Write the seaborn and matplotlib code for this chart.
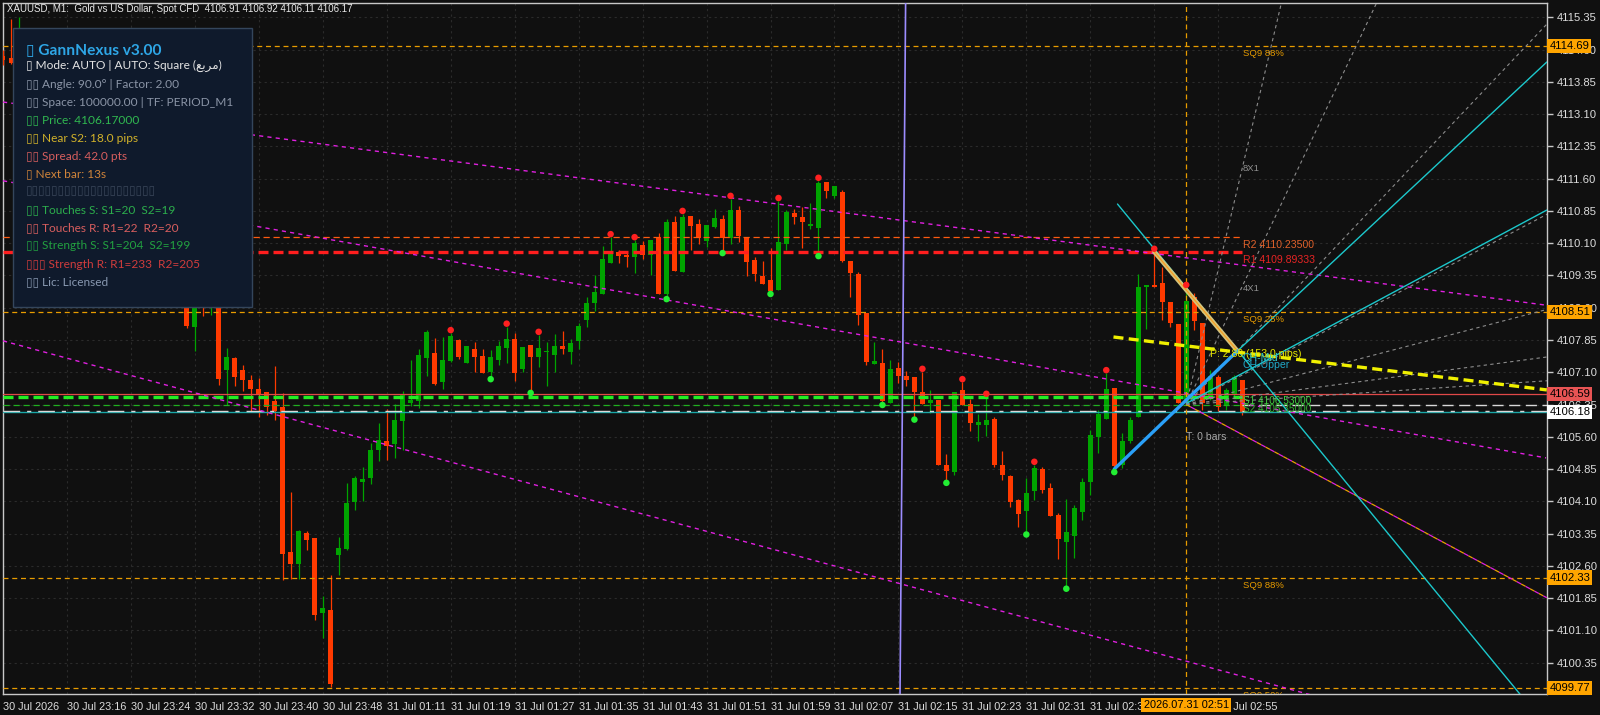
import numpy as np
import pandas as pd
import matplotlib
matplotlib.use("Agg")
import matplotlib.pyplot as plt
from matplotlib.patches import Rectangle
from matplotlib.transforms import blended_transform_factory
import seaborn as sns

# ---------------- data ----------------
opens = [4114.45, 4114.40, 4114.45, 4115.00, 4114.30, 4113.80, 4113.90, 4113.10, 4113.30, 4112.40,
         4112.70, 4111.90, 4112.10, 4111.40, 4111.60, 4110.80, 4111.00, 4110.30, 4110.50, 4109.80,
         4110.00, 4109.40, 4109.60, 4109.20, 4108.16, 4109.40, 4108.85, 4109.30, 4107.15, 4107.43,
         4107.15, 4106.92, 4106.71, 4106.64, 4106.43, 4106.29, 4102.92, 4102.65, 4103.37, 4103.25,
         4101.51, 4101.58, 4102.85, 4102.99, 4104.09, 4104.56, 4104.64, 4105.29, 4105.50, 4105.43,
         4105.97, 4106.39, 4106.44, 4107.44, 4107.55, 4106.88, 4107.36, 4107.85, 4107.32, 4107.64,
         4107.48, 4107.11, 4107.39, 4107.67, 4107.87, 4107.18, 4107.73, 4107.46, 4107.56, 4107.50,
         4107.71, 4107.57, 4107.83, 4108.32, 4108.71, 4108.93, 4109.64, 4109.90, 4109.83, 4109.78,
         4110.06, 4109.83, 4110.24, 4108.93, 4110.59, 4109.44, 4110.73, 4110.55, 4110.16, 4110.48,
         4110.66, 4110.22, 4110.87, 4110.24, 4109.71, 4109.34, 4109.25, 4109.01, 4110.08, 4110.80,
         4110.71, 4110.51, 4110.45, 4111.52, 4111.20, 4111.29, 4109.69, 4109.38, 4108.48, 4107.30,
         4107.32, 4106.39, 4107.20, 4107.01, 4106.99, 4106.64, 4106.39, 4106.46, 4104.95, 4104.79,
         4106.69, 4106.36, 4105.88, 4105.88, 4106.01, 4104.95, 4104.70, 4104.14, 4103.88, 4104.33,
         4104.86, 4104.42, 4103.79, 4103.16, 4103.30, 4103.85, 4104.55, 4105.60, 4106.02, 4106.74,
         4104.95, 4105.51, 4106.07, 4109.09, 4109.13, 4109.18, 4108.74, 4108.22, 4106.38, 4108.86,
         4108.25, 4106.50, 4107.00, 4106.34, 4106.60, 4106.91]
highs = [4114.60, 4115.31, 4115.36, 4115.05, 4114.60, 4114.10, 4114.00, 4113.50, 4113.40, 4112.90,
         4112.80, 4112.30, 4112.20, 4111.80, 4111.70, 4111.20, 4111.10, 4110.70, 4110.60, 4110.20,
         4110.10, 4109.80, 4109.70, 4109.40, 4109.30, 4109.50, 4109.50, 4109.45, 4107.66, 4107.46,
         4107.27, 4107.04, 4106.97, 4106.64, 4107.25, 4106.62, 4104.32, 4103.44, 4103.41, 4103.25,
         4101.90, 4102.39, 4103.27, 4104.53, 4104.69, 4104.90, 4105.46, 4105.92, 4106.25, 4106.36,
         4106.67, 4107.39, 4107.64, 4108.08, 4107.90, 4107.92, 4108.01, 4107.87, 4107.71, 4107.80,
         4107.64, 4107.62, 4107.83, 4108.16, 4108.01, 4107.69, 4107.73, 4107.97, 4107.80, 4107.99,
         4108.06, 4107.87, 4108.25, 4108.86, 4109.36, 4110.04, 4110.24, 4109.94, 4109.88, 4110.17,
         4110.15, 4110.17, 4110.34, 4110.66, 4110.73, 4110.78, 4110.73, 4110.66, 4110.52, 4110.90,
         4110.76, 4111.13, 4110.97, 4110.24, 4109.78, 4109.69, 4109.99, 4111.08, 4110.87, 4110.90,
         4110.94, 4111.03, 4111.55, 4111.52, 4111.43, 4111.34, 4109.69, 4109.44, 4108.48, 4107.80,
         4107.64, 4107.39, 4107.34, 4107.13, 4106.99, 4107.11, 4106.69, 4106.46, 4105.20, 4106.64,
         4106.87, 4106.48, 4106.13, 4106.53, 4106.07, 4105.27, 4104.72, 4104.16, 4104.65, 4104.95,
         4104.91, 4104.53, 4103.84, 4104.16, 4104.02, 4104.64, 4105.76, 4106.22, 4107.08, 4106.74,
         4105.69, 4106.07, 4109.38, 4109.13, 4109.90, 4109.55, 4108.74, 4108.22, 4109.06, 4108.94,
         4108.25, 4107.15, 4107.04, 4106.74, 4107.04, 4106.92]
lows = [4114.25, 4114.27, 4114.30, 4114.20, 4113.60, 4113.30, 4112.90, 4112.60, 4112.20, 4112.00,
        4111.70, 4111.50, 4111.20, 4110.90, 4110.60, 4110.40, 4110.10, 4109.90, 4109.60, 4109.40,
        4109.20, 4109.00, 4108.95, 4108.13, 4107.60, 4108.41, 4108.43, 4106.80, 4106.34, 4106.78,
        4106.67, 4106.20, 4106.05, 4106.11, 4105.99, 4102.27, 4102.30, 4102.30, 4102.97, 4101.34,
        4100.93, 4099.79, 4102.39, 4102.97, 4103.90, 4104.11, 4104.50, 4105.04, 4105.06, 4105.11,
        4105.29, 4106.32, 4106.27, 4107.01, 4106.81, 4106.71, 4107.34, 4107.41, 4107.32, 4107.11,
        4107.08, 4107.01, 4107.27, 4107.32, 4106.90, 4107.11, 4106.69, 4107.23, 4106.78, 4107.11,
        4107.53, 4107.29, 4107.64, 4108.16, 4108.53, 4108.93, 4109.64, 4109.64, 4109.55, 4109.41,
        4109.73, 4109.36, 4108.93, 4108.87, 4109.46, 4109.44, 4109.94, 4110.08, 4110.02, 4110.45,
        4109.94, 4110.08, 4110.13, 4109.34, 4109.22, 4109.15, 4108.99, 4109.01, 4109.94, 4110.55,
        4109.99, 4110.43, 4109.87, 4111.16, 4111.16, 4109.66, 4108.86, 4108.20, 4107.27, 4107.30,
        4106.41, 4106.39, 4106.84, 4106.77, 4106.07, 4106.36, 4106.15, 4104.95, 4104.60, 4104.72,
        4106.34, 4105.74, 4105.51, 4105.63, 4104.91, 4104.60, 4103.98, 4103.51, 4103.40, 4104.14,
        4104.30, 4103.77, 4102.77, 4102.14, 4102.79, 4103.67, 4104.25, 4105.23, 4106.02, 4104.85,
        4104.88, 4105.46, 4106.07, 4108.11, 4109.08, 4108.32, 4108.16, 4106.39, 4106.38, 4108.08,
        4106.22, 4106.46, 4106.20, 4106.22, 4106.55, 4106.11]
closes = [4114.35, 4114.29, 4115.00, 4114.30, 4113.80, 4113.90, 4113.10, 4113.30, 4112.40, 4112.70,
          4111.90, 4112.10, 4111.40, 4111.60, 4110.80, 4111.00, 4110.30, 4110.50, 4109.80, 4110.00,
          4109.40, 4109.60, 4109.20, 4108.18, 4109.00, 4108.85, 4109.30, 4106.94, 4107.45, 4107.00,
          4106.92, 4106.71, 4106.57, 4106.30, 4106.20, 4102.88, 4102.65, 4103.42, 4103.20, 4101.46,
          4101.62, 4099.86, 4103.02, 4104.06, 4104.64, 4104.62, 4105.29, 4105.53, 4105.39, 4105.99,
          4106.57, 4106.46, 4107.50, 4108.04, 4106.83, 4107.39, 4107.95, 4107.46, 4107.71, 4107.46,
          4107.09, 4107.46, 4107.71, 4107.87, 4107.09, 4107.69, 4107.46, 4107.66, 4107.60, 4107.71,
          4107.65, 4107.78, 4108.18, 4108.71, 4108.97, 4109.73, 4109.90, 4109.81, 4109.78, 4110.11,
          4109.83, 4110.17, 4108.93, 4110.59, 4109.46, 4110.72, 4110.51, 4110.22, 4110.52, 4110.69,
          4110.22, 4110.87, 4110.27, 4109.66, 4109.38, 4109.15, 4108.99, 4110.13, 4110.83, 4110.72,
          4110.59, 4110.55, 4111.51, 4111.32, 4111.43, 4109.69, 4109.41, 4108.42, 4107.35, 4107.36,
          4106.43, 4107.18, 4107.02, 4106.93, 4106.64, 4106.36, 4106.46, 4104.95, 4104.81, 4106.64,
          4106.34, 4105.91, 4105.95, 4105.99, 4104.95, 4104.72, 4104.09, 4103.81, 4104.30, 4104.88,
          4104.37, 4103.77, 4103.23, 4103.39, 4103.95, 4104.55, 4105.64, 4106.13, 4106.71, 4104.92,
          4105.50, 4105.99, 4109.08, 4109.13, 4109.09, 4108.74, 4108.24, 4106.39, 4108.76, 4108.28,
          4106.38, 4107.01, 4106.30, 4106.69, 4106.99, 4106.17]

fractal_up_idx = [56, 63, 67, 76, 79, 85, 91, 97, 102, 115, 120, 123, 129, 138, 144, 148]
fractal_dn_idx = [61, 66, 83, 90, 96, 102, 110, 114, 118, 128, 133, 139]

time_tick_idx = [0, 8, 16, 24, 32, 40, 48, 56, 64, 72, 80, 88, 96, 104, 112, 120, 128, 136, 144, 152]
time_labels = ["30 Jul 2026", "30 Jul 23:16", "30 Jul 23:24", "30 Jul 23:32", "30 Jul 23:40",
               "30 Jul 23:48", "31 Jul 01:11", "31 Jul 01:19", "31 Jul 01:27", "31 Jul 01:35",
               "31 Jul 01:43", "31 Jul 01:51", "31 Jul 01:59", "31 Jul 02:07", "31 Jul 02:15",
               "31 Jul 02:23", "31 Jul 02:31", "31 Jul 02:39", "", "31 Jul 02:55"]
price_ticks = [4115.35, 4114.60, 4113.85, 4113.10, 4112.35, 4111.60, 4110.85, 4110.10, 4109.35,
               4108.60, 4107.85, 4107.10, 4106.35, 4105.60, 4104.85, 4104.10, 4103.35, 4102.60,
               4101.85, 4101.10, 4100.35]

sq9_levels = [4114.69, 4108.51, 4102.33, 4099.77]
sq9_labels = ["SQ9 88%", "SQ9 25%", "SQ9 88%", "SQ9 50%"]
r2_level, r1_level = 4110.235, 4109.89333
s1_level, s2_level = 4106.53, 4106.35
ask_level, bid_level = 4106.59, 4106.18

# trend / channel anchors (bar index, price)
magenta_lines = [([0, 193], [4113.38, 4108.66]),
                 ([0, 193], [4111.55, 4105.11]),
                 ([0, 170], [4107.83, 4099.28])]
cyan_lines = [([139.4, 195.0], [4111.01, 4098.43]),
              ([154.4, 193.1], [4107.595, 4114.31]),
              ([148.1, 193.1], [4106.386, 4110.87])]
blue_line = ([139.0, 154.4], [4104.85, 4107.595])
khaki_line = ([144.0, 154.4], [4109.90, 4107.595])
yellow_line = ([138.9, 193.1], [4107.92, 4106.69])
orange_down = ([148.0, 193.1], [4106.35, 4101.86])
lavender_line = ([112.9, 112.2], [4115.68, 4099.62])
fan_origin = (148.0, 4106.35)
fan_ratios = [8, 4, 2, 1, 0.5, 0.25, 0.125]
fan_unit = 0.098
cursor_idx = 148

# ---------------- style ----------------
BG = "#101010"
GRID = "#2b2b2b"
UP = "#00a400"
DN = "#ff3a00"

sns.set_theme(style="dark")
plt.rcParams['font.family'] = ['Liberation Sans', 'DejaVu Sans']

W, H = 1600, 715
fig = plt.figure(figsize=(16, 7.15), dpi=100, facecolor=BG)
ax = fig.add_axes([3 / W, 21 / H, 1544 / W, 691 / H])
ax.set_facecolor(BG)
ax.set_xlim(0.125, 193.125)
ax.set_ylim(4099.623, 4115.682)

df = pd.DataFrame({"idx": np.arange(len(opens)), "open": opens, "high": highs,
                   "low": lows, "close": closes})
df["up"] = df["close"] >= df["open"]
cols = np.where(df["up"], UP, DN)

# grid
ax.grid(True, color=GRID, linestyle=(0, (2, 3)), lw=0.8)
ax.set_axisbelow(True)

# candles
ax.vlines(df["idx"], df["low"], df["high"], colors=cols, lw=0.9, zorder=3)
body_lo = np.minimum(df["open"], df["close"])
body_h = np.maximum(np.abs(df["close"] - df["open"]), 0.03)
ax.bar(df["idx"], body_h, bottom=body_lo, width=0.62, color=cols, linewidth=0, zorder=4)

# horizontal levels
for lv in sq9_levels:
    ax.axhline(lv, color="#e89c00", lw=0.9, dashes=(4, 3), zorder=5)
xe = 155.0
ax.plot([0, xe], [r2_level] * 2, color="#ff5a10", lw=0.9, dashes=(5, 3), zorder=5)
ax.plot([0, xe], [r1_level] * 2, color="#ff1e1e", lw=2.4, dashes=(3, 1.5), zorder=5)
ax.axhline(ask_level, color="#e04848", lw=0.9, zorder=5)
ax.axhline(bid_level, color="#1aa6a6", lw=1.0, zorder=5)
ax.axhline(bid_level + 0.012, color="#d8d8d8", lw=1.0, dashes=(12, 5, 3, 5), zorder=5)
ax.plot([xe, 194], [s2_level] * 2, color="#d8d8d8", lw=1.0, dashes=(8, 4), zorder=5)
ax.plot([0, xe], [s1_level] * 2, color="#22ee22", lw=2.4, dashes=(3, 1.5), zorder=5)
ax.plot([0, xe], [s2_level] * 2, color="#20b020", lw=0.9, dashes=(5, 3), zorder=5)

# channel lines
for xs, ys in magenta_lines:
    ax.plot(xs, ys, color="#e020e0", lw=1.0, dashes=(3, 3), zorder=5)
ax.plot(*orange_down, color="#e8a000", lw=0.9, dashes=(4, 4), zorder=5)
ax.plot(*orange_down, color="#e020e0", lw=0.9, dashes=(0, 4, 4, 0), zorder=5)
ax.plot(*lavender_line, color="#9c8cff", lw=1.2, zorder=5)
ax.axvline(cursor_idx, color="#e89c00", lw=0.9, dashes=(4, 3), zorder=5)

# gann fan
for r in fan_ratios:
    xs = np.array([fan_origin[0], 200.0])
    ys = fan_origin[1] + r * fan_unit * (xs - fan_origin[0])
    ax.plot(xs, ys, color="#8c8c8c", lw=0.8, dashes=(3, 3), zorder=5)
for xs, ys in cyan_lines:
    ax.plot(xs, ys, color="#1cc8cc", lw=1.0, zorder=6)
ax.plot(*yellow_line, color="#f0f000", lw=2.4, dashes=(3, 1.6), zorder=6)
ax.plot(*khaki_line, color="#d4c47a", lw=3.2, solid_capstyle="round", zorder=6)
ax.plot(*khaki_line, color="#ff9a1a", lw=0.8, zorder=7)
ax.plot(*blue_line, color="#2aa0f8", lw=2.4, solid_capstyle="round", zorder=7)

# fractal markers
up_df = df.loc[fractal_up_idx]
dn_df = df.loc[fractal_dn_idx]
sns.scatterplot(x=up_df["idx"], y=up_df["high"] + 0.07, ax=ax, color="#ff2020", s=22,
                edgecolor="none", zorder=8, legend=False)
sns.scatterplot(x=dn_df["idx"], y=dn_df["low"] - 0.07, ax=ax, color="#22ee33", s=22,
                edgecolor="none", zorder=8, legend=False)
ax.set_xlabel("")
ax.set_ylabel("")

# level labels
lx = 155.1
lab_kw = dict(ha="left", va="top", zorder=9, fontsize=6.8, clip_on=True)
for lv, t in zip(sq9_levels, sq9_labels):
    ax.text(lx, lv - 0.08, t, color="#e89c00", **lab_kw)
ax.text(lx, r2_level - 0.06, "R2 4110.23500", color="#e0602a", **{**lab_kw, "fontsize": 7.6})
ax.text(lx, r1_level - 0.06, "R1 4109.89333", color="#e82424", **{**lab_kw, "fontsize": 7.6})
ax.text(lx, 4111.94, "8X1", color="#909090", **lab_kw)
ax.text(lx, 4109.15, "4X1", color="#909090", **lab_kw)
ax.text(151.0, 4107.52, "P: 2.80 (153.0 pips)", color="#e6e600", ha="left", va="center",
        fontsize=7.6, zorder=9)
ax.text(lx, 4107.43, "CH-Mid", color="#30c8c8", ha="left", va="center", fontsize=7.6, zorder=9)
ax.text(lx, 4107.27, "CH-Upper", color="#20a8c8", ha="left", va="center", fontsize=7.6, zorder=9)
ax.text(lx, 4106.44, "S1 4106.53000", color="#40d040", ha="left", va="center", fontsize=7.2, zorder=9)
ax.text(lx, 4106.24, "S2 4106.35000", color="#30b030", ha="left", va="center", fontsize=7.2, zorder=9)
ax.text(cursor_idx, 4105.60, "T: 0 bars", color="#a8a8a8", ha="left", va="center", fontsize=7.6, zorder=9)

# axes / ticks
for sp in ax.spines.values():
    sp.set_visible(True)
    sp.set_color("#c8c8c8")
    sp.set_linewidth(1.0)
ax.yaxis.tick_right()
ax.set_yticks(price_ticks)
ax.set_yticklabels([f"{p:.2f}" for p in price_ticks])
ax.set_xticks(time_tick_idx)
ax.set_xticklabels(time_labels, ha="left")
ax.tick_params(axis="both", direction="out", length=4, width=1, color="#c8c8c8",
               labelcolor="#dcdcdc", labelsize=8.1, pad=2)
ax.tick_params(axis="x", labelsize=7.8)
ax.tick_params(axis="y", pad=3)

# highlighted axis labels
ty = blended_transform_factory(ax.transAxes, ax.transData)
tag_kw = dict(transform=ty, ha="left", va="center", fontsize=8.1, zorder=20, clip_on=False)
for lv, fc in [(4114.69, "#ffa500"), (4108.51, "#ffa500"), (4102.33, "#ffa500"),
               (4099.77, "#ffa500"), (ask_level, "#e85454"), (bid_level, "#ffffff")]:
    ax.text(1.0015, lv, f"{lv:.2f}", color="black",
            bbox=dict(boxstyle="square,pad=0.18", fc=fc, ec="none"), **tag_kw)
tx = blended_transform_factory(ax.transData, ax.transAxes)
ax.text(cursor_idx, -0.0155, "2026.07.31 02:51", transform=tx, ha="center", va="center",
        fontsize=7.9, color="black", zorder=20, clip_on=False,
        bbox=dict(boxstyle="square,pad=0.2", fc="#ffa500", ec="none"))

# header text
fig.text(7 / W, 1 - 9.5 / H, "XAUUSD, M1:  Gold vs US Dollar, Spot CFD  4106.91 4106.92 4106.11 4106.17",
         color="#e8e8e8", fontsize=7.0, ha="left", va="center", zorder=30)

# info panel
panel = Rectangle((13 / W, 1 - 307 / H), 239 / W, 279 / H, transform=fig.transFigure,
                  facecolor="#0f1a2c", edgecolor="#34465c", lw=1.0, zorder=25, clip_on=False)
ax.add_patch(panel)
pfam = ['Lato', 'DejaVu Sans']
fig.text(26 / W, 1 - 50.5 / H, "▯ GannNexus v3.00", color="#2ea6e6", fontsize=11.2,
         fontweight="bold", family=pfam, ha="left", va="center", zorder=30)
panel_lines = [
    ("▯ Mode: AUTO | AUTO: Square (\ufeca\ufe91\ufeae\ufee3)", "#e4e4e4", 66),
    ("▯▯ Angle: 90.0° | Factor: 2.00", "#8a94a6", 84),
    ("▯▯ Space: 100000.00 | TF: PERIOD_M1", "#8a94a6", 102),
    ("▯▯ Price: 4106.17000", "#30b850", 119.7),
    ("▯▯ Near S2: 18.0 pips", "#d2b22a", 138),
    ("▯▯ Spread: 42.0 pts", "#d85e5e", 156),
    ("▯ Next bar: 13s", "#d0843a", 174),
    ("▯" * 20, "#3a475a", 191),
    ("▯▯ Touches S: S1=20  S2=19", "#2cae4c", 209.7),
    ("▯▯ Touches R: R1=22  R2=20", "#d85e5e", 228),
    ("▯▯ Strength S: S1=204  S2=199", "#22a040", 245.7),
    ("▯▯▯ Strength R: R1=233  R2=205", "#d03c3c", 264),
    ("▯▯ Lic: Licensed", "#8898b0", 282),
]
for t, c, y in panel_lines:
    fig.text(26 / W, 1 - y / H, t, color=c, fontsize=8.6, family=pfam, ha="left",
             va="center", zorder=30)

fig.savefig("out.png", dpi=100, facecolor=BG)
